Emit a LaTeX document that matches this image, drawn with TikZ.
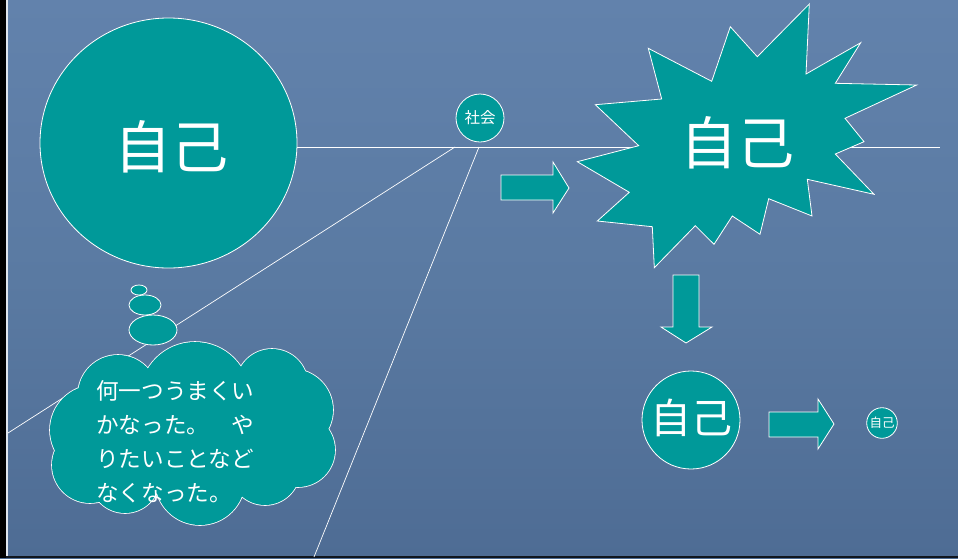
\documentclass[tikz,border=0pt]{standalone}
\usepackage{fontspec}
\usetikzlibrary{shapes.geometric}
\newfontfamily\jp{Noto Sans CJK JP}
\definecolor{teal1}{RGB}{0,153,153}
\definecolor{bgtop}{RGB}{98,130,172}
\definecolor{bgmid}{RGB}{90,122,162}
\definecolor{bgbot}{RGB}{78,108,148}
\begin{document}
\begin{tikzpicture}[x=1pt,y=-1pt,
  shapefill/.style={fill=teal1,draw=white,line width=0.8pt},
  guide/.style={draw=white,line width=0.7pt},
  lbl/.style={text=white,font=\jp,inner sep=0pt}]
\useasboundingbox (0,0) rectangle (958,558);
% background
\shade[top color=bgtop,bottom color=bgbot,middle color=bgmid] (0,0) rectangle (958,558);
\fill[black] (0,0) rectangle (6,558);
\fill[white!80!bgtop] (6,0) rectangle (7.5,558);
\fill[black!80!bgbot] (6,556) rectangle (958,558);
% coordinates for guide lines
\coordinate (h0) at (297,147);
\coordinate (h1) at (940,147);
\coordinate (s1) at (455,147);
\coordinate (s2) at (479,147);
\coordinate (e1) at (8,433);
\coordinate (e2) at (314,557);
\draw[guide] (h0) -- (h1);
\draw[guide] (s1) -- (e1);
\draw[guide] (s2) -- (e2);
% big circle
\node[shapefill,ellipse,minimum width=257,minimum height=250,inner sep=0pt] (self1) at (168.5,143) {};
\node[lbl,font=\jp\fontsize{57}{60}\selectfont] at (171,147) {自己};
% society
\node[shapefill,circle,minimum size=48,inner sep=0pt] (soc) at (480,118) {};
\node[lbl,font=\jp\fontsize{15.5}{17}\selectfont] at (480,118) {社会};
% arrow 1
\draw[shapefill] (501,175) -- (553,175) -- (553,162) -- (569,188) -- (553,213) -- (553,200) -- (501,200) -- cycle;
% starburst
\draw[shapefill] (809.3,4) -- (806,74) -- (860.7,42.7) -- (835.3,83.3) -- (916.7,85) -- (845,118.3) -- (864,141.7) -- (835.3,154) -- (874,194.3) -- (807.3,179.3) -- (812,216) -- (768.7,198.7) -- (760,234.3) -- (732.3,216) -- (714,244.3) -- (695.3,225.7) -- (654.3,267.7) -- (652.3,226.7) -- (597.3,221) -- (629.3,192.3) -- (577.3,161.7) -- (638.7,145.7) -- (595.3,104.7) -- (661.7,99) -- (648.3,48.3) -- (711.7,81.3) -- (730.3,26.7) -- (757.3,56.7) -- cycle;
\node[lbl,font=\jp\fontsize{57}{60}\selectfont] (burst) at (737,143) {自己};
% down arrow
\draw[shapefill] (673,275) -- (699,275) -- (699,327) -- (712,327) -- (686,343) -- (661,327) -- (673,327) -- cycle;
% medium circle
\node[shapefill,circle,minimum size=98,inner sep=0pt] (self3) at (691,420) {};
\node[lbl,font=\jp\fontsize{41}{44}\selectfont] at (691,418) {自己};
% arrow 2
\draw[shapefill] (769,412) -- (818,412) -- (818,399) -- (834,424) -- (818,449) -- (818,437) -- (769,437) -- cycle;
% small circle
\node[shapefill,circle,minimum size=30.6,inner sep=0pt] (self4) at (882,423) {};
\node[lbl,font=\jp\fontsize{12.5}{14}\selectfont] at (882,423) {自己};
% thought bubbles
\node[shapefill,ellipse,minimum width=16,minimum height=10,inner sep=0pt] (b1) at (139,290) {};
\node[shapefill,ellipse,minimum width=32,minimum height=20,inner sep=0pt] (b2) at (145,305) {};
\node[shapefill,ellipse,minimum width=48,minimum height=30,inner sep=0pt] (b3) at (153,330) {};
% cloud made of lobes
\def\lobes{
  (118,395) circle (40)
  (195,397) circle (55)
  (272,385) circle (36)
  (292,410) circle (41)
  (298,450) circle (37)
  (265,470) circle (35)
  (200,480) circle (45)
  (125,478) circle (35)
  (90,465) circle (38)
  (95,430) circle (45)
}
\draw[white,line width=1.6pt] \lobes;
\fill[teal1] \lobes;
\fill[teal1] (190,435) ellipse (110 and 60);
\node[lbl,align=left,anchor=north west,font=\jp\fontsize{22.6}{34}\selectfont] (cloudtext) at (96,380) {何一つうまくい\\かなった。　や\\りたいことなど\\なくなった。};
\end{tikzpicture}
\end{document}
